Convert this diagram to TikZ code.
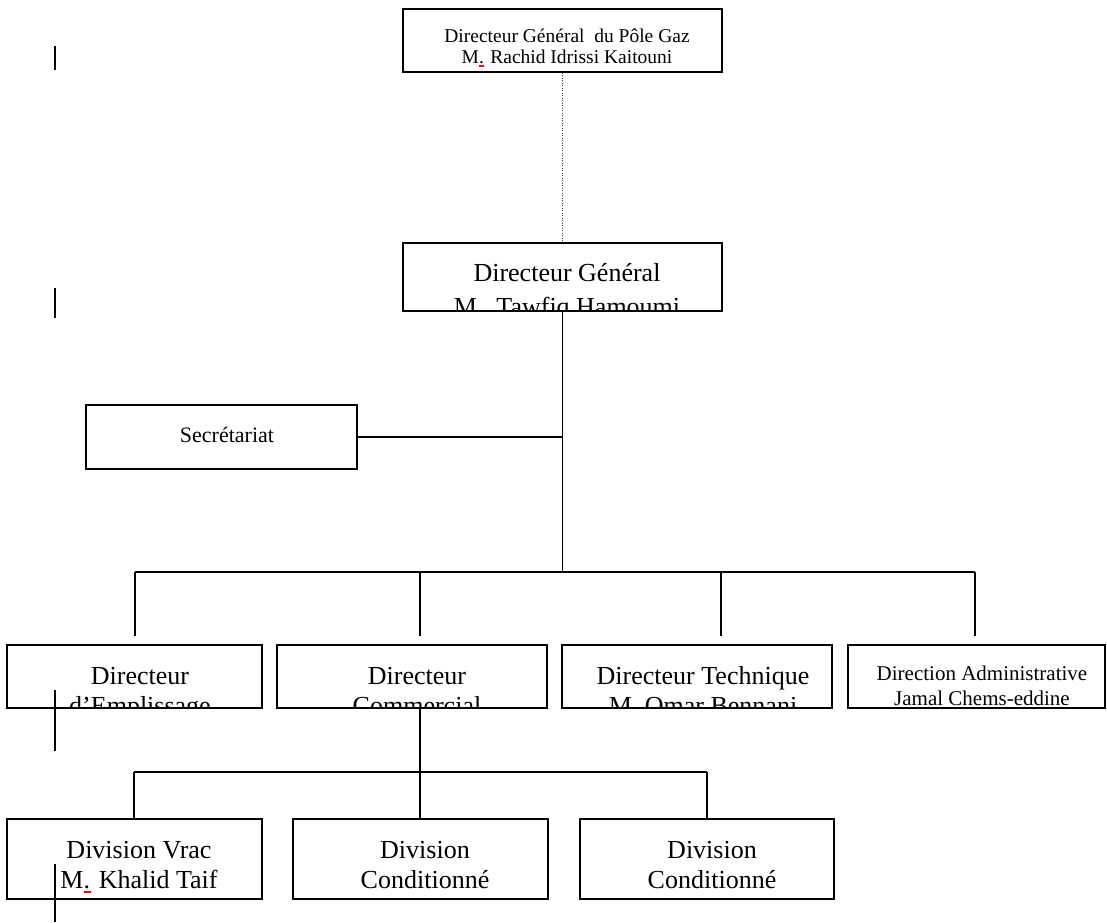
\documentclass[tikz,border=0pt]{standalone}
\usepackage{fontspec}
\setmainfont{Liberation Serif}
\newcommand\spl{\rlap{\textcolor{red}{\rule[-0.2em]{0.28em}{0.08em}}}.}
\newcommand\mkbox[5]{\node[obox, minimum width={#4pt-#2pt}, minimum height={#5pt-#3pt}] (#1) at ({(#2+#4)/2},{(#3+#5)/2}) {};}
\newcommand\fs[1]{\fontsize{#1}{#1}\selectfont}
\begin{document}
\begin{tikzpicture}[x=1pt,y=-1pt,
  obox/.style={draw=black, line width=1.4pt, rectangle, inner sep=0pt},
  txt/.style={anchor=base, inner sep=0pt},
  conn/.style={line width=1.4pt},
  cursor/.style={line width=2.2pt},
  dots/.style={line width=1.2pt, black!75, dash pattern=on 1.2pt off 1.3pt}]
\useasboundingbox (0,0) rectangle (1107,922);

% boxes
\mkbox{top}{403}{9}{722}{72}
\mkbox{dg}{403}{243}{722}{311}
\mkbox{sec}{86}{405}{357}{469}
\mkbox{r1}{7}{645}{262}{708}
\mkbox{r2}{277}{645}{547}{708}
\mkbox{r3}{562}{645}{832}{708}
\mkbox{r4}{848}{645}{1105}{708}
\mkbox{d1}{7}{819}{262}{899}
\mkbox{d2}{293}{819}{548}{899}
\mkbox{d3}{580}{819}{834}{899}

% texts (clipped to their boxes)
\begin{scope}
\clip (top.north west) rectangle (top.south east);
\node[txt, font=\fs{19.5}] at (567,42) {Directeur Général\ \ du Pôle Gaz};
\node[txt, font=\fs{19.5}] at (567,63) {M\spl{} Rachid Idrissi Kaitouni};
\end{scope}
\begin{scope}
\clip (dg.north west) rectangle (dg.south east);
\node[txt, font=\fs{26}] at (567,281) {Directeur Général};
\node[txt, font=\fs{26}] at (567,315) {M.\ \ Tawfiq Hamoumi};
\end{scope}
\node[txt, font=\fs{22}] at (227,442) {Secrétariat};
\begin{scope}
\clip (r1.north west) rectangle (r1.south east);
\node[txt, font=\fs{26}] at (140,684) {Directeur};
\node[txt, font=\fs{26}] at (140,714) {d’Emplissage};
\end{scope}
\begin{scope}
\clip (r2.north west) rectangle (r2.south east);
\node[txt, font=\fs{26}] at (417,684) {Directeur};
\node[txt, font=\fs{26}] at (417,714) {Commercial};
\end{scope}
\begin{scope}
\clip (r3.north west) rectangle (r3.south east);
\node[txt, font=\fs{26}] at (703,684) {Directeur Technique};
\node[txt, font=\fs{26}] at (703,714) {M. Omar Bennani};
\end{scope}
\begin{scope}
\clip (r4.north west) rectangle (r4.south east);
\node[txt, font=\fs{21}] at (982,680) {Direction Administrative};
\node[txt, font=\fs{21}] at (982,705) {Jamal Chems-eddine};
\end{scope}
\node[txt, font=\fs{26}] at (139,858) {Division Vrac};
\node[txt, font=\fs{26}] at (139,888) {M\spl{} Khalid Taif};
\node[txt, font=\fs{26}] at (425,858) {Division};
\node[txt, font=\fs{26}] at (425,888) {Conditionné};
\node[txt, font=\fs{26}] at (712,858) {Division};
\node[txt, font=\fs{26}] at (712,888) {Conditionné};

% connectors
\draw[dots] (top) -- (dg);
\coordinate (bus) at (dg.south |- 0,572);
\draw[conn] (dg.south) -- (bus);
\draw[conn] (sec.east) -- (sec.east -| dg.south);
\coordinate (bL) at (135,572);
\coordinate (b2) at (420,572);
\coordinate (b3) at (721,572);
\coordinate (bR) at (975,572);
\draw[conn] (bL) -- (bR);
\foreach \c in {bL,b2,b3,bR} \draw[conn] (\c) -- ++(0,64);
\coordinate (cm) at (420,708);
\coordinate (sL) at (134,772);
\coordinate (sM) at (420,772);
\coordinate (sR) at (707,772);
\draw[conn] (cm) -- (sM);
\draw[conn] (sL) -- (sR);
\draw[conn] (sL) -- (sL |- d1.north);
\draw[conn] (sM) -- (sM |- d2.north);
\draw[conn] (sR) -- (sR |- d3.north);

% stray margin marks
\draw[cursor] (55,46) -- (55,70);
\draw[cursor] (55,288) -- (55,318);
\draw[cursor] (55,690) -- (55,751);
\draw[cursor] (55,864) -- (55,922);
\end{tikzpicture}
\end{document}
